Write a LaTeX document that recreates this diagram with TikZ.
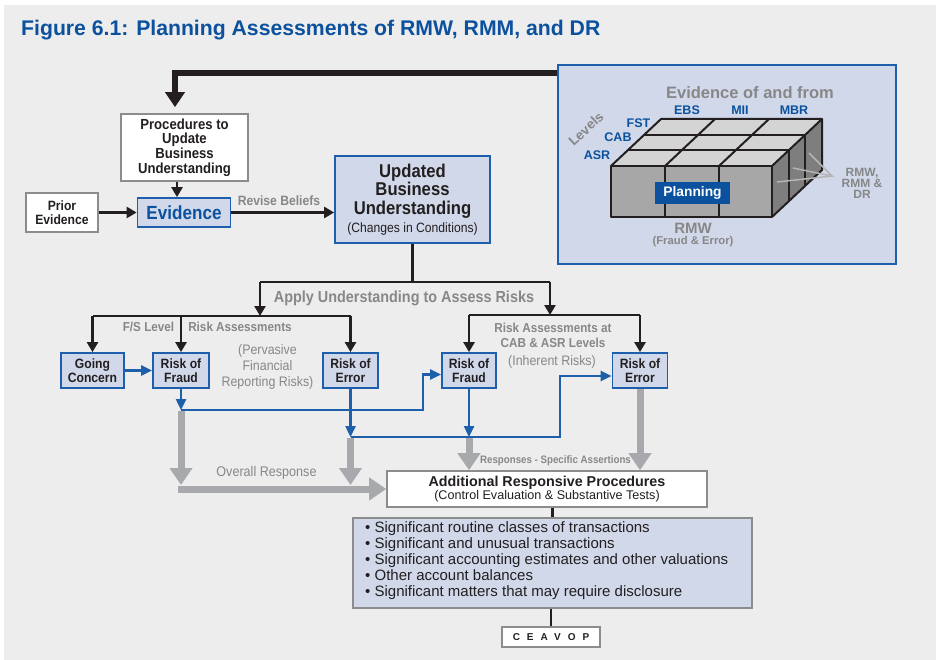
\documentclass[tikz,border=0pt]{standalone}
\usepackage{fontspec}
\setmainfont{Liberation Sans}
\newfontfamily\cnd[FakeStretch=0.9]{Liberation Sans}
\usetikzlibrary{arrows.meta,calc}
\definecolor{bggray}{HTML}{EDEDED}
\definecolor{tblue}{HTML}{0B519E}
\definecolor{bblue}{HTML}{1D5FAA}
\definecolor{lblue}{HTML}{D0D8EA}
\definecolor{tgray}{HTML}{878787}
\definecolor{agray}{HTML}{A8A9AC}
\definecolor{bgray}{HTML}{8C8C8C}
\definecolor{dark}{HTML}{231F20}
\definecolor{ctop}{HTML}{D4D4D4}
\definecolor{cfront}{HTML}{A7A7A7}
\definecolor{cside}{HTML}{7E7E7E}
\definecolor{fan}{HTML}{B4B4B4}
\tikzset{
  wbox/.style={draw=bgray, line width=1.6pt, fill=white, inner sep=0pt, align=center, text=dark},
  bbox/.style={draw=bblue, line width=1.8pt, fill=lblue, inner sep=0pt, align=center, text=dark},
  lvl/.style={bbox, minimum height=35pt, font=\cnd\bfseries\fontsize{13.5}{13.8}\selectfont},
  blkline/.style={draw=dark, line width=2.6pt},
  blk/.style={blkline, -{Triangle[width=11pt,length=10pt]}},
  thk/.style={draw=dark, line width=6.5pt, -{Triangle[width=19pt,length=15pt]}},
  bline/.style={draw=bblue, line width=2.4pt},
  barr/.style={bline, -{Triangle[width=10pt,length=11pt]}},
  garr/.style={draw=agray, line width=7pt, -{Triangle[width=22pt,length=17pt]}},
  glbl/.style={text=tgray, inner sep=0pt, align=center, font=\cnd\bfseries\fontsize{13}{15.5}\selectfont},
  gtxt/.style={text=tgray, inner sep=0pt, align=center, font=\cnd\fontsize{13.8}{15.8}\selectfont},
  cube/.style={draw=dark, line width=2pt, line join=round},
  lev/.style={text=tblue, inner sep=0pt, font=\bfseries\fontsize{12.5}{12.5}\selectfont},
}
\begin{document}
\begin{tikzpicture}[x=1pt,y=-1pt]
\useasboundingbox (0,0) rectangle (936,660);
\fill[bggray] (4,5) rectangle (936,660);

% title
\node[anchor=west, inner sep=0pt, text=tblue, font=\bfseries\fontsize{21.2}{21.2}\selectfont] (title) at (21,30) {Figure 6.1: Planning Assessments of RMW, RMM, and DR};

% right panel
\node[draw=bblue, line width=1.8pt, fill=lblue, minimum width=338pt, minimum height=199pt, inner sep=0pt] (panel) at (727,164.5) {};

% cube
\fill[cfront] (611,166) rectangle (772,217);
\fill[ctop] (611,166) -- (661,119) -- (822,119) -- (772,166) -- cycle;
\fill[cside] (772,166) -- (822,119) -- (822,170) -- (772,217) -- cycle;
\draw[cube] (611,166) rectangle (772,217);
\draw[cube] (611,166) -- (661,119) -- (822,119) -- (772,166);
\draw[cube] (822,119) -- (822,170) -- (772,217);
\draw[cube] (665,166) -- (665,217) (719,166) -- (719,217);
\draw[cube] (665,166) -- (715,119) (719,166) -- (769,119);
\draw[cube] (627.7,150.3) -- (788.7,150.3) -- (788.7,201.3);
\draw[cube] (644.3,134.7) -- (805.3,134.7) -- (805.3,185.7);
\node[fill=tblue, text=white, minimum width=75pt, minimum height=22pt, inner sep=0pt, font=\bfseries\fontsize{13.8}{13.8}\selectfont] (plan) at (692.5,193) {Planning};

\node[text=tgray, inner sep=0pt, font=\bfseries\fontsize{16.5}{16.5}\selectfont] (evof) at (750,93) {Evidence of and from};
\node[lev] (ebs) at (687,110) {EBS};
\node[lev] (mii) at (740,110) {MII};
\node[lev] (mbr) at (794,110) {MBR};
\node[lev] (fst) at (638.5,123) {FST};
\node[lev] (cab) at (618,137.5) {CAB};
\node[lev] (asr) at (597,155) {ASR};
\node[text=tgray, inner sep=0pt, rotate=43, font=\bfseries\fontsize{13.5}{13.5}\selectfont] (levels) at (586,129) {Levels};
\node[text=tgray, inner sep=0pt, font=\bfseries\fontsize{15}{15}\selectfont] (rmw) at (693,228) {RMW};
\node[text=tgray, inner sep=0pt, font=\bfseries\fontsize{11.3}{11.3}\selectfont] (fe) at (693,242) {(Fraud \& Error)};
\node[text=tgray, inner sep=0pt, align=center, font=\bfseries\fontsize{12}{10.8}\selectfont] (rmm) at (862,183.5) {RMW,\\RMM \&\\DR};
\coordinate (fo) at (832,176);
\draw[fan, line width=1.5pt] (809,153) -- (fo) -- (793,168) (fo) -- (777,182);

% upper flow
\node[wbox, minimum width=127pt, minimum height=67pt, font=\cnd\bfseries\fontsize{14.6}{14.7}\selectfont] (proc) at (184.5,147.5) {Procedures to\\Update\\Business\\Understanding};
\node[wbox, minimum width=72pt, minimum height=39pt, font=\cnd\bfseries\fontsize{13.5}{14.5}\selectfont] (prior) at (62,212.5) {Prior\\Evidence};
\node[bbox, minimum width=93pt, minimum height=29pt, text=tblue, font=\cnd\bfseries\fontsize{19}{19}\selectfont] (evid) at (184,212.5) {Evidence};
\node[bbox, minimum width=155pt, minimum height=87pt, font=\cnd\bfseries\fontsize{18.5}{18.5}\selectfont] (upd) at (412.5,199.5) {Updated\\Business\\Understanding\\[-0.5pt]{\cnd\mdseries\fontsize{13.5}{14}\selectfont (Changes in Conditions)}};

\coordinate (tk) at (175,73);
\draw[thk] (panel.west |- tk) -- (tk) -- ($(tk |- proc.north)+(0,-6)$);
\draw[blk] ($(proc.south)+(-7.5,0)$) -- ($(evid.north)+(-7,0)$);
\draw[blk] (prior.east) -- (evid.west);
\draw[blk] (evid.east) -- (evid.east -| upd.west);
\node[glbl, font=\cnd\bfseries\fontsize{13.5}{13.5}\selectfont] (rb) at (279,201) {Revise Beliefs};

% risk tree
\coordinate (j0) at (412.5,282);
\coordinate (aL) at (260,282);
\coordinate (aR) at (550,282);
\coordinate (bL) at (260,316);
\coordinate (bR) at (550,315);
\draw[blkline] (upd.south) -- (j0);
\draw[blkline] (aL) -- (aR);
\draw[blk] (aL) -- (bL);
\draw[blk] (aR) -- (bR);
\node[glbl, font=\cnd\bfseries\fontsize{16}{16}\selectfont] (apply) at (404,298) {Apply Understanding to Assess Risks};

\node[lvl, minimum width=63pt] (gc) at (92.5,370.5) {Going\\Concern};
\node[lvl, minimum width=56pt] (rf1) at (181,370.5) {Risk of\\Fraud};
\node[lvl, minimum width=55pt] (re1) at (350.5,370.5) {Risk of\\Error};
\node[lvl, minimum width=54pt] (rf2) at (469,370.5) {Risk of\\Fraud};
\node[lvl, minimum width=55pt] (re2) at (640,370.5) {Risk of\\Error};

\draw[blkline] (gc.north |- bL) -- (re1.north |- bL);
\draw[blk] (gc.north |- bL) -- (gc.north);
\draw[blk] (rf1.north |- bL) -- (rf1.north);
\draw[blk] (re1.north |- bL) -- (re1.north);
\draw[blkline] (rf2.north |- bR) -- (re2.north |- bR);
\draw[blk] (rf2.north |- bR) -- (rf2.north);
\draw[blk] (re2.north |- bR) -- (re2.north);

\node[glbl] (fsl) at (148.5,327) {F/S Level};
\node[glbl] (ras) at (240,327) {Risk Assessments};
\node[gtxt] (perv) at (267.5,367) {(Pervasive\\Financial\\Reporting Risks)};
\node[glbl] (rcab) at (553,335.5) {Risk Assessments at\\CAB \& ASR Levels};
\node[gtxt] (inh) at (552,362) {(Inherent Risks)};

% blue connectors
\coordinate (f1) at (181,410);
\coordinate (e1) at (350.5,437);
\draw[barr] (gc.east) -- (rf1.west);
\draw[barr] (rf1.south) -- (f1);
\draw[barr] (f1) -- (423,410) -- (423,374.5) -- ($(rf2.west)+(0,4)$);
\draw[barr] (re1.south) -- (e1);
\draw[barr] (rf2.south) -- (rf2.south |- e1);
\draw[barr] (e1) -- (560,437) -- (560,376) -- ($(re2.west)+(0,5.5)$);

% additional procedures
\node[wbox, minimum width=320pt, minimum height=36pt] (add) at (547,489) {{\bfseries\fontsize{14.3}{15}\selectfont Additional Responsive Procedures}\\[-0.5pt]{\fontsize{12.6}{12.6}\selectfont (Control Evaluation \& Substantive Tests)}};

% gray arrows
\coordinate (g1) at (181,489);
\draw[garr] ($(f1)+(0,1)$) -- ($(g1)+(0,-4)$);
\draw[garr] ($(e1)+(0,1)$) -- ($(e1 |- g1)+(0,-4)$);
\draw[garr] ($(g1)+(-3.5,0)$) -- (add.west);
\draw[garr] ($(rf2.south |- e1)+(0,1)$) -- (rf2.south |- add.north);
\draw[garr] (re2.south) -- (re2.south |- add.north);
\node[gtxt, font=\cnd\fontsize{14}{14}\selectfont] (ovr) at (266.5,473) {Overall Response};
\node[glbl, font=\cnd\bfseries\fontsize{10.8}{10.8}\selectfont] (rsa) at (555.5,461) {Responses - Specific Assertions};

% list
\node[draw=bgray, line width=1.6pt, fill=lblue, minimum width=399pt, minimum height=90pt, inner sep=0pt] (list) at (552.5,563) {};
\node[anchor=north west, inner sep=0pt, align=left, text=dark, font=\fontsize{15}{16}\selectfont] (items) at (365,521.5) {%
  \textbullet\ Significant routine classes of transactions\\
  \textbullet\ Significant and unusual transactions\\
  \textbullet\ Significant accounting estimates and other valuations\\
  \textbullet\ Other account balances\\
  \textbullet\ Significant matters that may require disclosure};
\node[wbox, minimum width=98pt, minimum height=20pt, font=\bfseries\fontsize{10}{10}\selectfont\addfontfeature{LetterSpace=70}] (ceavop) at (551,637) {CEAVOP};
\draw[blkline, line width=2.2pt] (add.south -| list.north) -- (list.north);
\draw[blkline, line width=2.2pt] (list.south -| ceavop.north) -- (ceavop.north);
\end{tikzpicture}
\end{document}
